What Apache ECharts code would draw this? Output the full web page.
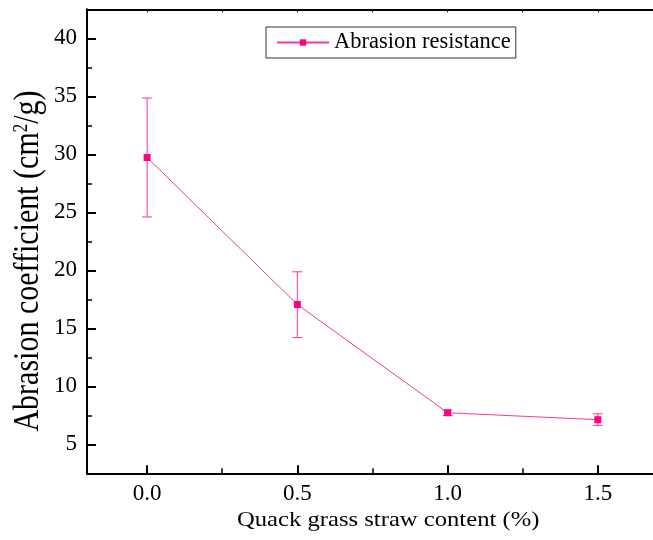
<!DOCTYPE html>
<html>
<head>
<meta charset="utf-8">
<script src="https://cdn.jsdelivr.net/npm/echarts@6/dist/echarts.min.js"></script>
<style>
  html, body { margin: 0; padding: 0; background: #fff; }
  #chart { width: 653px; height: 540px; }
</style>
</head>
<body>
<div id="chart"></div>
<script>
// straw content (%) and measured abrasion coefficient
var contents = [0, 0.5, 1.0, 1.5];
var coefficients = [29.72, 17.05, 7.72, 7.12];
var errLow = [24.6, 14.2, 7.48, 6.63];
var errHigh = [34.85, 19.87, 7.95, 7.63];

// axis ranges / tick labels
var xRange = [-0.2, 1.8];
var yRange = [2.5, 42.5];
var xTickRange = [0, 1.5];   // labelled ticks 0.0 .. 1.5
var yTickRange = [5, 40];    // labelled ticks 5 .. 40
var xTickStep = 0.5;
var yTickStep = 5;

var seriesName = 'Abrasion resistance';
var lineColor = '#ff3399';
var markColor = '#ff0080';
var font = '"Liberation Serif", "Times New Roman", serif';

var myChart = echarts.init(document.getElementById('chart'));

var lineData = []
var errData = []
contents.forEach((c, i) => {
    lineData.push([c, coefficients[i]])
    errData.push([c, errLow[i], errHigh[i]])
})

// plot box in pixels
var plotLeft = 87, plotTop = 9.3, plotW = 601, plotH = 464;
var pxPerX = plotW / (xRange[1] - xRange[0]);
var pxPerY = plotH / (yRange[1] - yRange[0]);

function renderErrorBar(params, api) {
    var x = api.value(0)
    var top = api.coord([x, api.value(2)])
    var bot = api.coord([x, api.value(1)])
    var w = 5
    var style = { stroke: lineColor, lineWidth: 1 }
    return {
        type: 'group',
        children: [
            { type: 'line', shape: { x1: top[0], y1: top[1], x2: bot[0], y2: bot[1] }, style: style },
            { type: 'line', shape: { x1: top[0] - w, y1: top[1], x2: top[0] + w, y2: top[1] }, style: style },
            { type: 'line', shape: { x1: bot[0] - w, y1: bot[1], x2: bot[0] + w, y2: bot[1] }, style: style }
        ]
    }
}

var majorTick = { color: '#000', width: 2 }
var minorTick = { color: '#000', width: 1.5 }
var hiddenAxis = (idx) => ({ type: 'value', gridIndex: idx, show: false })

let option = {
    animation: false,
    grid: [
        // data grid
        { left: plotLeft, top: plotTop, width: plotW, height: plotH, outerBoundsMode: 'none' },
        // y tick grid: spans 5..40 on the same scale
        {
            left: plotLeft, width: plotW, outerBoundsMode: 'none',
            top: plotTop + (yRange[1] - yTickRange[1]) * pxPerY,
            height: (yTickRange[1] - yTickRange[0]) * pxPerY
        },
        // x tick grid: spans 0..1.5 on the same scale
        {
            top: plotTop, height: plotH, outerBoundsMode: 'none',
            left: plotLeft + (xTickRange[0] - xRange[0]) * pxPerX,
            width: (xTickRange[1] - xTickRange[0]) * pxPerX
        }
    ],
    legend: {
        data: [seriesName],
        left: 266,
        top: 27,
        orient: 'horizontal',
        borderColor: '#333',
        borderWidth: 1,
        borderRadius: 0,
        padding: [4, 5, 4, 10],
        itemWidth: 52,
        itemHeight: 8,
        textStyle: { fontFamily: font, fontSize: 22.5, color: '#000' }
    },
    graphic: [
        {
            type: 'text',
            x: 237,
            y: 520,
            scaleX: 1.12,
            style: {
                text: 'Quack grass straw content (%)',
                fontFamily: font, fontSize: 22, fill: '#000',
                align: 'left', verticalAlign: 'middle'
            }
        },
        {
            type: 'text',
            x: 29,
            y: 261,
            rotation: Math.PI / 2,
            scaleY: 1.2,
            style: {
                text: '{a|Abrasion coefficient (cm}{s|2}{a|/g)}',
                align: 'center', verticalAlign: 'middle',
                rich: {
                    a: { fontFamily: font, fontSize: 30, fill: '#000' },
                    s: { fontFamily: font, fontSize: 17, fill: '#000', verticalAlign: 'top' }
                }
            }
        }
    ],
    xAxis: [
        {
            type: 'value', gridIndex: 0, position: 'bottom',
            min: xRange[0], max: xRange[1], splitLine: { show: false },
            axisLine: { show: true, onZero: false, lineStyle: { color: '#000', width: 2 } },
            axisTick: { show: false },
            axisLabel: { show: false }
        },
        {
            type: 'value', gridIndex: 0, position: 'top',
            min: xRange[0], max: xRange[1], splitLine: { show: false },
            axisLine: { show: true, onZero: false, lineStyle: { color: '#000', width: 2 } },
            axisTick: { show: false },
            axisLabel: { show: false }
        },
        hiddenAxis(1),
        {
            type: 'value', gridIndex: 2, position: 'bottom',
            min: xTickRange[0], max: xTickRange[1], interval: xTickStep,
            splitLine: { show: false },
            axisLine: { show: false, onZero: false },
            axisTick: { show: true, inside: true, length: 8, lineStyle: majorTick },
            minorTick: { show: true, splitNumber: 2, length: 5, lineStyle: minorTick },
            axisLabel: {
                margin: 9, color: '#000', fontFamily: font, fontSize: 23,
                formatter: v => v.toFixed(1)
            }
        },
        {
            type: 'value', gridIndex: 2, position: 'top',
            min: xTickRange[0], max: xTickRange[1], interval: xTickStep,
            splitLine: { show: false },
            axisLine: { show: false, onZero: false },
            axisTick: { show: true, inside: true, length: 3, lineStyle: { color: '#000', width: 1 } },
            minorTick: { show: true, splitNumber: 2, length: 3, lineStyle: { color: '#000', width: 1 } },
            axisLabel: { show: false }
        }
    ],
    yAxis: [
        {
            type: 'value', gridIndex: 0, position: 'left',
            min: yRange[0], max: yRange[1], splitLine: { show: false },
            axisLine: { show: true, onZero: false, lineStyle: { color: '#000', width: 2 } },
            axisTick: { show: false },
            axisLabel: { show: false }
        },
        {
            type: 'value', gridIndex: 1, position: 'left',
            min: yTickRange[0], max: yTickRange[1], interval: yTickStep,
            splitLine: { show: false },
            axisLine: { show: false, onZero: false },
            axisTick: { show: true, inside: true, length: 9, lineStyle: majorTick },
            minorTick: { show: true, splitNumber: 2, length: 5, lineStyle: minorTick },
            axisLabel: { margin: 10, color: '#000', fontFamily: font, fontSize: 23 }
        },
        hiddenAxis(2)
    ],
    series: [
        {
            name: 'error',
            type: 'custom',
            xAxisIndex: 0,
            yAxisIndex: 0,
            renderItem: renderErrorBar,
            encode: { x: 0, y: [1, 2] },
            data: errData,
            z: 1
        },
        {
            name: seriesName,
            type: 'line',
            xAxisIndex: 0,
            yAxisIndex: 0,
            data: lineData,
            symbol: 'rect',
            symbolSize: 7,
            itemStyle: { color: markColor },
            lineStyle: { color: lineColor, width: 1 },
            z: 3
        }
    ]
};

myChart.setOption(option);
</script>
</body>
</html>
